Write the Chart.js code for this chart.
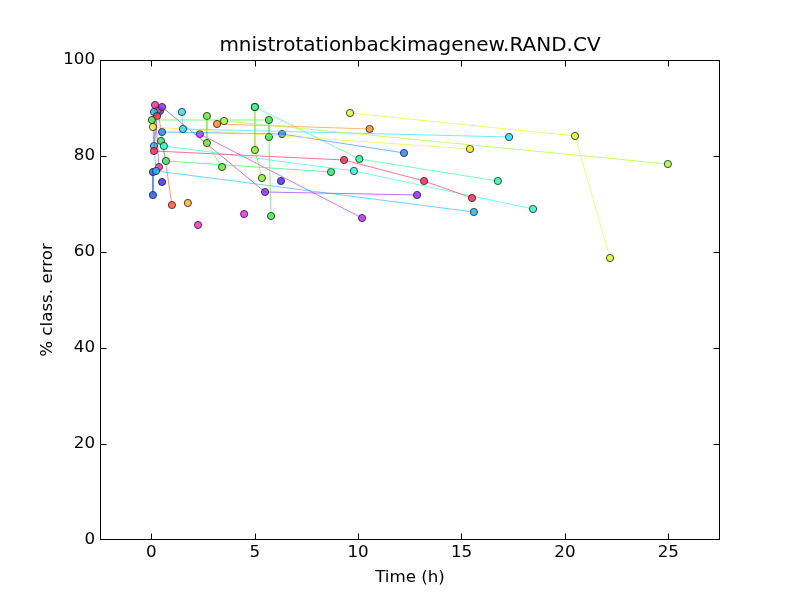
<!DOCTYPE html>
<html>
<head>
<meta charset="utf-8">
<script src="https://cdn.jsdelivr.net/npm/chart.js@4.4.0/dist/chart.umd.min.js"></script>
<style>
html,body{margin:0;padding:0;background:#fff;}
#wrap{width:800px;height:600px;position:relative;}
</style>
</head>
<body>
<div id="wrap"><canvas id="c" width="800" height="600"></canvas></div>
<script>
// ---- data (x = time in hours, y = % class. error) ----
const titleText = "mnistrotationbackimagenew.RAND.CV";
const xAxisLabel = "Time (h)";
const yAxisLabel = "% class. error";
const xTicks = [0, 5, 10, 15, 20, 25];
const yTicks = [0, 20, 40, 60, 80, 100];

const series01 = [[9.61, 88.96], [20.49, 84.17], [22.18, 58.75]];
const series02 = [[3.52, 87.29], [24.98, 78.33]];
const series03 = [[3.18, 86.67], [10.56, 85.63]];
const series04 = [[1.48, 89.17], [1.53, 85.63], [17.30, 83.96]];
const series05 = [[0.08, 86.04], [15.41, 81.46]];
const series06 = [[0.52, 85.00], [6.32, 84.58], [12.22, 80.63]];
const series07 = [[5.01, 90.21], [10.06, 79.38], [16.76, 74.79]];
const series08 = [[5.01, 90.21], [5.01, 81.25], [5.35, 75.42]];
const series09 = [[0.03, 87.50], [5.69, 87.50], [5.69, 83.96], [5.79, 67.50]];
const series10 = [[2.69, 88.33], [2.69, 82.71], [3.42, 77.71]];
const series11 = [[0.28, 88.33], [0.13, 81.04], [9.32, 79.17], [13.19, 74.79], [15.51, 71.25]];
const series12 = [[0.61, 82.08], [9.80, 76.88], [18.46, 68.96]];
const series13 = [[0.47, 83.13], [0.71, 78.96], [8.69, 76.67]];
const series14 = [[0.13, 89.17], [0.13, 82.08], [0.23, 76.88], [15.60, 68.33]];
const series15 = [[0.52, 90.21], [5.50, 72.50], [12.85, 71.88]];
const series16 = [[2.35, 84.58], [10.19, 67.08]];
const series17 = [[0.08, 76.67], [0.08, 71.88]];
const series18 = [[0.52, 74.58]];
const series19 = [[6.27, 74.79]];
const series20 = [[0.18, 90.63], [0.37, 77.71]];
const series21 = [[0.32, 89.58], [1.00, 69.79]];
const series22 = [[1.77, 70.21]];
const series23 = [[2.26, 65.63]];
const series24 = [[4.49, 67.92]];
const series25 = [[0.42, 89.38]];

const allSeries = [series01, series02, series03, series04, series05, series06, series07,
  series08, series09, series10, series11, series12, series13, series14, series15,
  series16, series17, series18, series19, series20, series21, series22, series23,
  series24, series25];

// ---- styles ----
const seriesColors = ["#ddff2a", "#a6ff2a", "#ff8c2a", "#2ae0ff", "#ffe82a", "#2a8cff",
  "#2aff9a", "#88f02a", "#3cf03c", "#66ee2a", "#ff2a5a", "#2affd0", "#2aee66",
  "#2ab4ff", "#962aff", "#c62aff", "#2a60ff", "#442aff", "#5a2aff", "#ff2aa6",
  "#ff5a2a", "#ffb42a", "#ff2ad0", "#ee2aee", "#2a6aff"];

function hexA(h, a) {
  const r = parseInt(h.slice(1, 3), 16), g = parseInt(h.slice(3, 5), 16), b = parseInt(h.slice(5, 7), 16);
  return `rgba(${r},${g},${b},${a})`;
}

const datasets = allSeries.map((s, i) => ({
  label: 'run ' + (i + 1),
  data: s.map(p => ({x: p[0], y: p[1]})),
  showLine: true,
  borderColor: hexA(seriesColors[i], 0.65),
  borderWidth: 1,
  pointBackgroundColor: hexA(seriesColors[i], 0.85),
  pointBorderColor: 'rgba(40,40,40,0.85)',
  pointBorderWidth: 1,
  pointRadius: 3.6,
  pointHoverRadius: 3.6,
  tension: 0
}));

const FONT = "'DejaVu Sans', 'Liberation Sans', sans-serif";

const framePlugin = {
  id: 'frame',
  afterDraw(chart) {
    const {ctx, chartArea: a, scales} = chart;
    ctx.save();
    ctx.strokeStyle = '#000';
    ctx.lineWidth = 1;
    const T = Math.round(a.top) + 0.5, B = Math.round(a.bottom) - 0.5;
    const Lf = Math.round(a.left) + 0.5, R = Math.round(a.right) - 0.5;
    const clampY = y => Math.min(Math.max(Math.round(y) + 0.5, T), B);
    const clampX = x => Math.min(Math.max(Math.round(x) + 0.5, Lf), R);
    ctx.beginPath();
    const L = 6;
    xTicks.forEach(v => {
      const x = clampX(scales.x.getPixelForValue(v));
      ctx.moveTo(x, B); ctx.lineTo(x, B - L);
      ctx.moveTo(x, T); ctx.lineTo(x, T + L);
    });
    yTicks.forEach(v => {
      const y = clampY(scales.y.getPixelForValue(v));
      ctx.moveTo(Lf, y); ctx.lineTo(Lf + L, y);
      ctx.moveTo(R, y); ctx.lineTo(R - L, y);
    });
    ctx.stroke();
    ctx.strokeRect(Lf, T, R - Lf, B - T);
    // texts
    ctx.fillStyle = '#000';
    ctx.textAlign = 'center';
    ctx.textBaseline = 'middle';
    ctx.font = "20px " + FONT;
    ctx.fillText(titleText, (a.left + a.right) / 2, 46);
    ctx.font = "16.7px " + FONT;
    ctx.fillText(xAxisLabel, (a.left + a.right) / 2, 578);
    ctx.save();
    ctx.translate(48, (a.top + a.bottom) / 2);
    ctx.rotate(-Math.PI / 2);
    ctx.fillText(yAxisLabel, 0, 0);
    ctx.restore();
    ctx.restore();
  }
};

new Chart(document.getElementById('c'), {
  type: 'scatter',
  data: {datasets},
  options: {
    responsive: false,
    animation: false,
    devicePixelRatio: 1,
    layout: {padding: {top: 60, right: 80, left: 0, bottom: 0}},
    plugins: {legend: {display: false}, tooltip: {enabled: false}, title: {display: false}},
    scales: {
      x: {
        type: 'linear', min: -2.48, max: 27.5,
        grid: {display: false, drawTicks: false}, border: {display: false},
        afterFit(s) { s.height = 60; },
        afterBuildTicks(s) { s.ticks = xTicks.map(v => ({value: v})); },
        ticks: {font: {family: FONT, size: 16.7}, color: '#000', padding: 3, maxRotation: 0,
          callback: v => String(v)}
      },
      y: {
        type: 'linear', min: 0, max: 100,
        grid: {display: false, drawTicks: false}, border: {display: false},
        afterFit(s) { s.width = 100; },
        afterBuildTicks(s) { s.ticks = yTicks.map(v => ({value: v})); },
        ticks: {font: {family: FONT, size: 16.7}, color: '#000', padding: 5,
          callback: v => String(v)}
      }
    }
  },
  plugins: [framePlugin]
});
</script>
</body>
</html>
